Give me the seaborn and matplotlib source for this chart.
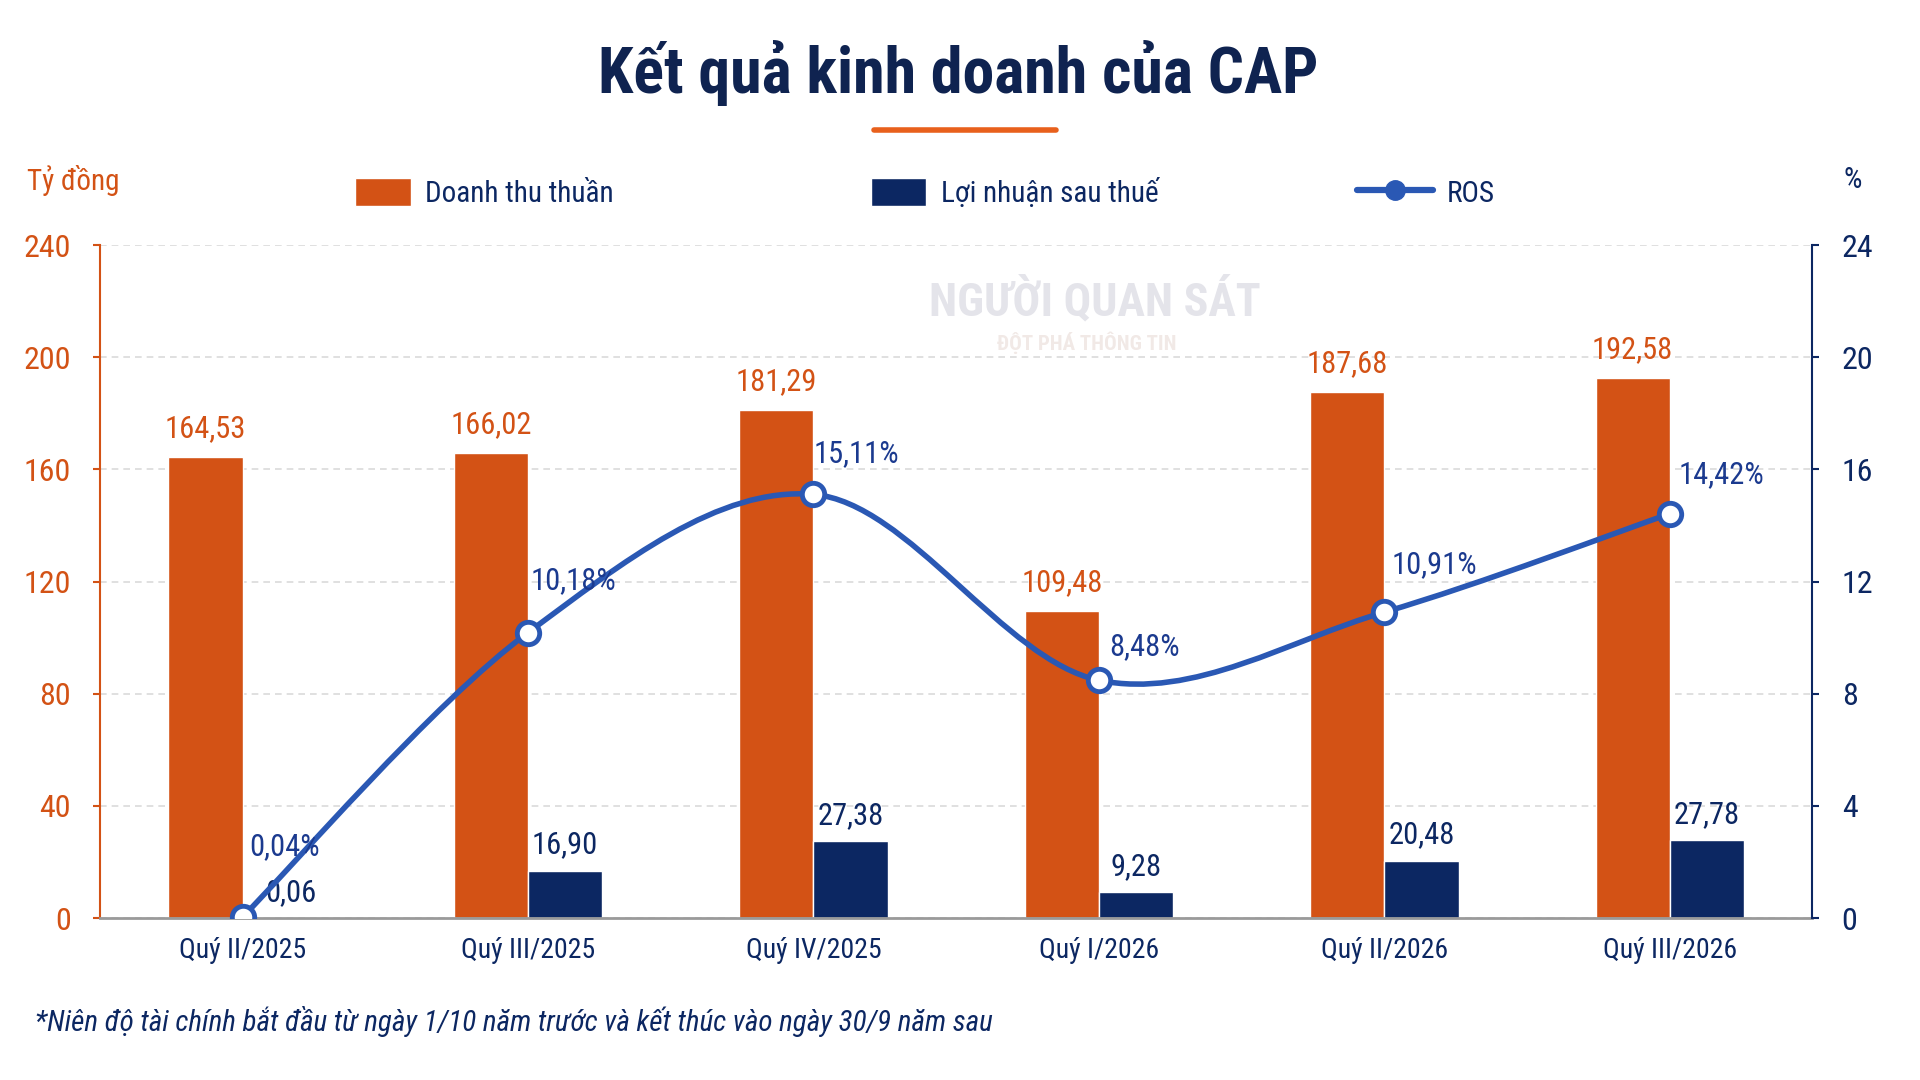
import numpy as np
import pandas as pd
import seaborn as sns
import matplotlib.pyplot as plt
from matplotlib.patches import Patch, PathPatch
from matplotlib.lines import Line2D
from matplotlib.path import Path

# data
quarters = ["Quý II/2025", "Quý III/2025", "Quý IV/2025", "Quý I/2026", "Quý II/2026", "Quý III/2026"]
revenue = [164.53, 166.02, 181.29, 109.48, 187.68, 192.58]
profit = [0.06, 16.90, 27.38, 9.28, 20.48, 27.78]
ros = [0.04, 10.18, 15.11, 8.48, 10.91, 14.42]

# label offsets (points) for the ROS annotations
ros_offsets = [(30, 40), (33, 27), (31, 19), (33, 14), (36, 24), (37, 18)]

ORANGE = "#D35215"
NAVY = "#0C2762"
BLUE = "#2A58B4"
TITLE = "#0F2350"


def vn(x, pct=False):
    s = f"{x:.2f}".replace(".", ",")
    return s + "%" if pct else s


def smooth_path(xs, ys):
    """Catmull-Rom style bezier path through the given points."""
    pts = np.column_stack([xs, ys]).astype(float)
    verts = [pts[0]]
    codes = [Path.MOVETO]
    n = len(pts)
    for i in range(n - 1):
        p0 = pts[i - 1] if i > 0 else pts[i]
        p1, p2 = pts[i], pts[i + 1]
        p3 = pts[i + 2] if i + 2 < n else pts[i + 1]
        c1 = p1 + (p2 - p0) / 6
        c2 = p2 - (p3 - p1) / 6
        verts += [c1, c2, p2]
        codes += [Path.CURVE4] * 3
    return Path(verts, codes)


sns.set_style("white")
plt.rcParams["font.family"] = ["Roboto Condensed", "DejaVu Sans"]

df = pd.DataFrame({
    "quarter": quarters * 2,
    "value": revenue + profit,
    "series": ["Doanh thu thuần"] * 6 + ["Lợi nhuận sau thuế"] * 6,
})

fig = plt.figure(figsize=(19.2, 10.8), dpi=100)
ax = fig.add_axes([0.052, 0.15, 0.892, 0.623])

sns.barplot(data=df, x="quarter", y="value", hue="series", order=quarters,
            palette=[ORANGE, NAVY], width=0.52, gap=0, legend=False,
            saturation=1, ax=ax, zorder=2)

ax.set_xlim(-0.5, 5.5)
ax.set_ylim(0, 240)
ax.set_yticks(np.arange(0, 241, 40))
ax.set_xlabel("")
ax.set_ylabel("")
ax.grid(axis="y", color="#DADADA", linestyle=(0, (4, 3)), linewidth=1.2, zorder=0)
ax.set_axisbelow(True)

for s in ["top", "right"]:
    ax.spines[s].set_visible(False)
ax.spines["left"].set_color(ORANGE)
ax.spines["left"].set_linewidth(1.5)
ax.spines["bottom"].set_color("#9A9A9A")
ax.spines["bottom"].set_linewidth(2)

ax.tick_params(axis="y", colors=ORANGE, labelsize=23, length=5, width=1.5, pad=16)
ax.set_xticks(range(6))
ax.set_xticklabels(quarters)
ax.set_xticks(np.arange(-0.5, 6, 1), minor=True)
ax.tick_params(axis="x", which="major", length=0, labelsize=20, labelcolor=NAVY, pad=14)
ax.tick_params(axis="x", which="minor", length=11, width=1.2, color="#9A9A9A")

# value labels on bars
w = 0.26
for i in range(6):
    ax.annotate(vn(revenue[i]), (i - w / 2, revenue[i]), xytext=(0, 10),
                textcoords="offset points", ha="center", va="bottom",
                fontsize=22, color=ORANGE)
    ax.annotate(vn(profit[i]), (i + w / 2, profit[i]), xytext=(8 if i == 0 else 0, 8),
                textcoords="offset points", ha="center", va="bottom",
                fontsize=22, color=NAVY)

# ROS on secondary axis
ax2 = ax.twinx()
ax2.set_ylim(0, 24)
ax2.set_yticks(np.arange(0, 25, 4))
for s in ["top", "left", "bottom"]:
    ax2.spines[s].set_visible(False)
ax2.spines["right"].set_color(NAVY)
ax2.spines["right"].set_linewidth(1.5)
ax2.tick_params(axis="y", colors=NAVY, labelsize=23, length=5, width=1.5, pad=16)
ax2.grid(False)

xpos = np.arange(len(quarters))
ax2.add_patch(PathPatch(smooth_path(xpos, ros), facecolor="none",
                        edgecolor=BLUE, linewidth=4, zorder=3,
                        capstyle="round", joinstyle="round"))
sns.scatterplot(x=xpos, y=ros, ax=ax2, s=260, color="white",
                edgecolor=BLUE, linewidth=3.5, zorder=4, legend=False)
for i in range(6):
    ax2.annotate(vn(ros[i], pct=True), (xpos[i], ros[i]), xytext=ros_offsets[i],
                 textcoords="offset points", ha="center", va="bottom",
                 fontsize=22, color="#1B3A8F")
ax2.set_xlim(-0.5, 5.5)

# title and decorations
fig.text(0.499, 0.932, "Kết quả kinh doanh của CAP", ha="center", va="center",
         fontsize=46, fontweight="bold", color=TITLE)
fig.add_artist(Line2D([0.455, 0.550], [0.880, 0.880], color="#E8601C",
                      linewidth=4, transform=fig.transFigure))
fig.text(0.014, 0.833, "Tỷ đồng", ha="left", va="center", fontsize=21, color=ORANGE)
fig.text(0.965, 0.833, "%", ha="center", va="center", fontsize=21, color=NAVY)

# watermark
fig.text(0.570, 0.722, "NGƯỜI QUAN SÁT", ha="center", va="center", fontsize=33,
         fontweight="bold", color="#E4E4EA", zorder=0)
fig.text(0.566, 0.683, "ĐỘT PHÁ THÔNG TIN", ha="center", va="center", fontsize=15,
         fontweight="bold", color="#F1E9E6", zorder=0)

# legend entries placed one by one
legend_items = [
    (Patch(facecolor=ORANGE, label="Doanh thu thuần"), 0.185, 1.9),
    (Patch(facecolor=NAVY, label="Lợi nhuận sau thuế"), 0.4535, 1.9),
    (Line2D([0], [0], color=BLUE, linewidth=4.5, marker="o", markersize=14,
            markerfacecolor=BLUE, label="ROS"), 0.7066, 2.6),
]
for handle, x0, hl in legend_items:
    fig.legend(handles=[handle], loc="center left", bbox_to_anchor=(x0, 0.821),
               frameon=False, fontsize=21, handlelength=hl, handleheight=1.1,
               handletextpad=0.5, borderpad=0, borderaxespad=0, labelcolor=NAVY)

fig.text(0.018, 0.054,
         "*Niên độ tài chính bắt đầu từ ngày 1/10 năm trước và kết thúc vào ngày 30/9 năm sau",
         ha="left", va="center", fontsize=21, style="italic", color=NAVY)

fig.savefig("out.png", dpi=100, facecolor="white")
